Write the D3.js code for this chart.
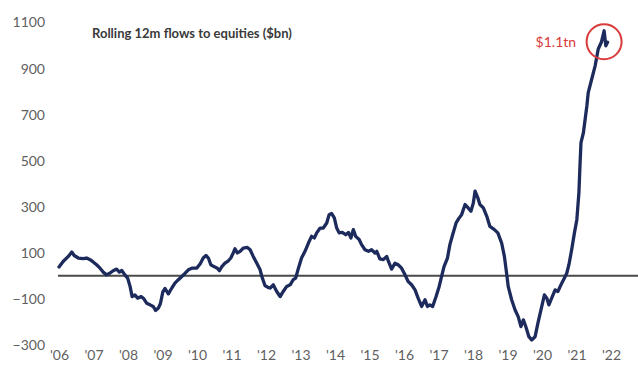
<!DOCTYPE html>
<html>
<head>
<meta charset="utf-8">
<script src="https://cdn.jsdelivr.net/npm/d3@7"></script>
<style>
  html, body { margin: 0; padding: 0; background: #fff; }
  svg { display: block; }
</style>
</head>
<body>
<svg id="chart" width="638" height="371"></svg>
<script>
// Rolling 12-month flows to equities, $bn (decimal year, value)
const years = [
  2006.00, 2006.12, 2006.27, 2006.37, 2006.44, 2006.56, 2006.70, 2006.80, 2006.90, 2006.99,
  2007.09, 2007.19, 2007.28, 2007.38, 2007.48, 2007.57, 2007.67, 2007.75, 2007.82, 2007.91,
  2007.99, 2008.06, 2008.12, 2008.20, 2008.28, 2008.38, 2008.46, 2008.54, 2008.64, 2008.73,
  2008.80, 2008.88, 2008.94, 2009.01, 2009.07, 2009.17, 2009.27, 2009.36, 2009.46, 2009.56,
  2009.65, 2009.75, 2009.85, 2009.99, 2010.09, 2010.18, 2010.26, 2010.33, 2010.40, 2010.49,
  2010.59, 2010.65, 2010.72, 2010.81, 2010.91, 2010.98, 2011.05, 2011.10, 2011.17, 2011.25,
  2011.34, 2011.46, 2011.54, 2011.63, 2011.73, 2011.83, 2011.88, 2011.97, 2012.07, 2012.12,
  2012.21, 2012.31, 2012.41, 2012.50, 2012.60, 2012.70, 2012.79, 2012.86, 2012.94, 2013.03,
  2013.13, 2013.23, 2013.32, 2013.40, 2013.47, 2013.57, 2013.66, 2013.76, 2013.83, 2013.90,
  2013.98, 2014.05, 2014.12, 2014.21, 2014.31, 2014.39, 2014.46, 2014.53, 2014.60, 2014.70,
  2014.77, 2014.87, 2014.97, 2015.06, 2015.16, 2015.21, 2015.30, 2015.40, 2015.50, 2015.55,
  2015.64, 2015.74, 2015.83, 2015.93, 2016.03, 2016.12, 2016.22, 2016.32, 2016.41, 2016.51,
  2016.61, 2016.68, 2016.75, 2016.83, 2016.93, 2017.02, 2017.09, 2017.16, 2017.26, 2017.33,
  2017.41, 2017.51, 2017.60, 2017.67, 2017.77, 2017.86, 2017.94, 2018.01, 2018.06, 2018.14,
  2018.20, 2018.30, 2018.40, 2018.49, 2018.62, 2018.72, 2018.83, 2018.91, 2018.98, 2019.02,
  2019.12, 2019.22, 2019.31, 2019.39, 2019.46, 2019.53, 2019.62, 2019.70, 2019.80, 2019.88,
  2019.97, 2020.07, 2020.14, 2020.20, 2020.28, 2020.38, 2020.46, 2020.55, 2020.65, 2020.72,
  2020.78, 2020.86, 2020.94, 2021.01, 2021.07, 2021.10, 2021.13, 2021.20, 2021.30, 2021.34,
  2021.44, 2021.54, 2021.63, 2021.72, 2021.80, 2021.85, 2021.90
];
const flows = [
  38, 62, 84, 103, 88, 77, 74, 77, 70, 60,
  48, 33, 16, 4, 12, 22, 29, 16, 23, 4,
  -10, -46, -90, -83, -97, -90, -100, -119, -126, -133,
  -150, -140, -120, -70, -55, -78, -53, -32, -17, -3,
  10, 26, 33, 33, 51, 77, 88, 77, 48, 40,
  33, 22, 40, 55, 65, 77, 99, 117, 99, 106,
  120, 123, 113, 84, 55, 26, -3, -42, -51, -53,
  -39, -68, -90, -68, -46, -39, -17, -10, 33, 77,
  106, 142, 171, 164, 186, 207, 207, 229, 265, 270,
  251, 207, 186, 188, 178, 188, 164, 200, 171, 157,
  135, 113, 106, 113, 99, 106, 73, 70, 84, 62,
  29, 55, 48, 33, 4, -25, -39, -61, -97, -133,
  -104, -133, -126, -133, -90, -46, -3, 40, 77, 135,
  178, 229, 251, 265, 309, 294, 280, 316, 367, 338,
  309, 294, 258, 214, 200, 186, 142, 84, 4, -46,
  -104, -148, -177, -220, -191, -220, -264, -278, -264, -206,
  -148, -83, -97, -126, -97, -61, -68, -39, -10, 12,
  48, 113, 186, 243, 360, 475, 577, 620, 736, 794,
  852, 910, 983, 1012, 1062, 997, 1012
];

const yTicks = [-300, -100, 100, 300, 500, 700, 900, 1100];
const xTicks = [2006, 2007, 2008, 2009, 2010, 2011, 2012, 2013, 2014, 2015, 2016, 2017, 2018, 2019, 2020, 2021, 2022];
const xTickLabels = ["'06", "'07", "'08", "'09", "'10", "'11", "'12", "'13", "'14", "'15", "'16", "'17", "'18", "'19", "'20", "'21", "'22"];

const titleText = "Rolling 12m flows to equities ($bn)";
const calloutText = "$1.1tn";

const svg = d3.select("#chart");

const x = d3.scaleLinear().domain([2006, 2022]).range([59, 611]);
const y = d3.scaleLinear().domain([-300, 1100]).range([345, 22]);

// Value axis: labels only, no domain or tick marks
const yAxis = d3.axisLeft(y).tickValues(yTicks).tickFormat(d3.format("d"))
  .tickSize(0).tickPadding(0);
svg.append("g")
  .attr("transform", "translate(45,0)")
  .call(yAxis)
  .call(g => g.select(".domain").remove())
  .call(g => g.selectAll("text")
    .attr("fill", "#5f5f5f")
    .attr("font-family", "Lato, 'Open Sans', sans-serif")
    .attr("font-size", 14)
    .attr("dy", "0.35em"));

// Year axis: labels only
const xAxis = d3.axisBottom(x).tickValues(xTicks)
  .tickFormat((d, i) => xTickLabels[i]).tickSize(0).tickPadding(0);
svg.append("g")
  .attr("transform", "translate(0,350)")
  .call(xAxis)
  .call(g => g.select(".domain").remove())
  .call(g => g.selectAll("text")
    .attr("fill", "#5f5f5f")
    .attr("font-family", "Lato, 'Open Sans', sans-serif")
    .attr("font-size", 14)
    .attr("dy", "0.71em"));

// Zero baseline
svg.append("line")
  .attr("x1", x(2006) - 1).attr("x2", 638)
  .attr("y1", y(0)).attr("y2", y(0))
  .attr("stroke", "#4a4a4a")
  .attr("stroke-width", 2);

// Flow series
const series = years.map((yr, i) => ({ yr, v: flows[i] }));
const line = d3.line().x(d => x(d.yr)).y(d => y(d.v));
svg.append("path")
  .datum(series)
  .attr("d", line)
  .attr("fill", "none")
  .attr("stroke", "#1d2a5c")
  .attr("stroke-width", 3.3)
  .attr("stroke-linejoin", "round")
  .attr("stroke-linecap", "round");

// Title
svg.append("text")
  .attr("x", 92).attr("y", 38)
  .attr("fill", "#3a3a3a")
  .attr("font-family", "Lato, 'Open Sans', sans-serif")
  .attr("font-weight", "bold")
  .attr("font-size", 13)
  .text(titleText);

// Peak callout
const peakIdx = d3.maxIndex(flows);
const px = x(years[peakIdx]);
const py = y(flows[peakIdx]);
svg.append("circle")
  .attr("cx", px).attr("cy", py + 11)
  .attr("r", 17.5)
  .attr("fill", "none")
  .attr("stroke", "#d93a3a")
  .attr("stroke-width", 2);
svg.append("text")
  .attr("x", px - 28).attr("y", py + 11)
  .attr("dy", "0.35em")
  .attr("text-anchor", "end")
  .attr("fill", "#d93a3a")
  .attr("font-family", "Lato, 'Open Sans', sans-serif")
  .attr("font-size", 14)
  .text(calloutText);
</script>
</body>
</html>
